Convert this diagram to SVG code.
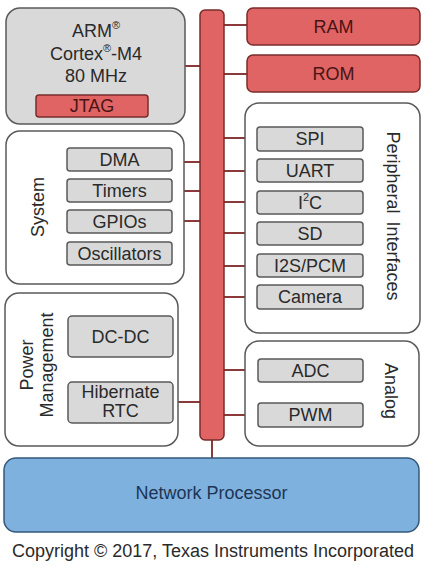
<svg xmlns="http://www.w3.org/2000/svg" width="425" height="572" viewBox="0 0 425 572">
<style>
text{font-family:"Liberation Sans",Arial,sans-serif;font-size:18px;fill:#2a2a2a;text-anchor:middle;dominant-baseline:central}
.grp{fill:#fff;stroke:#5a5a5a;stroke-width:1.5}
.gray{fill:#d9d9d9;stroke:#5a5a5a;stroke-width:1.5}
.red{fill:#e06464;stroke:#7a2b2b;stroke-width:1.5}
.rt{fill:#4a1414}
.blue{fill:#7fb1df;stroke:#35587a;stroke-width:1.5}
.conn line{stroke:#8a3a3a;stroke-width:2}
</style>
<rect width="425" height="572" fill="#fff"/>
<g class="conn">
<line x1="185" y1="66" x2="200" y2="66"/>
<line x1="172" y1="162" x2="200" y2="162"/>
<line x1="172" y1="191" x2="200" y2="191"/>
<line x1="172" y1="221" x2="200" y2="221"/>
<line x1="173" y1="402" x2="200" y2="402"/>
<line x1="224" y1="25" x2="247" y2="25"/>
<line x1="224" y1="74" x2="247" y2="74"/>
<line x1="224" y1="138" x2="257" y2="138"/>
<line x1="224" y1="171" x2="257" y2="171"/>
<line x1="224" y1="202" x2="257" y2="202"/>
<line x1="224" y1="233" x2="257" y2="233"/>
<line x1="224" y1="266" x2="257" y2="266"/>
<line x1="224" y1="297" x2="257" y2="297"/>
<line x1="224" y1="370" x2="258" y2="370"/>
<line x1="224" y1="415" x2="258" y2="415"/>
<line x1="212" y1="440" x2="212" y2="458"/>
</g>
<g id="bus"><rect class="red" x="200" y="10" width="24" height="430" rx="5"/></g>
<g id="arm">
<rect class="gray" x="6" y="8" width="179" height="116" rx="14"/>
<text x="96" y="31" font-size="19">ARM<tspan font-size="11" baseline-shift="super">®</tspan></text>
<text x="96" y="54" font-size="19">Cortex<tspan font-size="11" baseline-shift="super">®</tspan>-M4</text>
<text x="96" y="76" font-size="19">80 MHz</text>
</g>
<g id="jtag"><rect class="red" x="36" y="95" width="112" height="22" rx="3"/><text class="rt" x="92" y="106">JTAG</text></g>
<g id="system">
<rect class="grp" x="6" y="131" width="178" height="153" rx="14"/>
<text transform="translate(38 207) rotate(-90)" x="0" y="0">System</text>
</g>
<g id="dma"><rect class="gray" x="67" y="148" width="105" height="23" rx="3"/><text x="119.5" y="159.5">DMA</text></g>
<g id="timers"><rect class="gray" x="67" y="179" width="105" height="23" rx="3"/><text x="119.5" y="190.5">Timers</text></g>
<g id="gpios"><rect class="gray" x="67" y="210" width="105" height="23" rx="3"/><text x="119.5" y="221.5">GPIOs</text></g>
<g id="oscillators"><rect class="gray" x="67" y="242" width="105" height="23" rx="3"/><text x="119.5" y="253.5">Oscillators</text></g>
<g id="power">
<rect class="grp" x="5" y="293" width="173" height="153" rx="14"/>
<text transform="translate(27 365) rotate(-90)" x="0" y="0">Power</text>
<text transform="translate(47 365) rotate(-90)" x="0" y="0">Management</text>
</g>
<g id="dcdc"><rect class="gray" x="68" y="316" width="105" height="41" rx="4"/><text x="120.5" y="336.5">DC-DC</text></g>
<g id="hibernate"><rect class="gray" x="68" y="382" width="105" height="41" rx="4"/><text x="120.5" y="392">Hibernate</text><text x="120.5" y="411">RTC</text></g>
<g id="ram"><rect class="red" x="247" y="8" width="173" height="37" rx="6"/><text class="rt" x="333.5" y="26.5">RAM</text></g>
<g id="rom"><rect class="red" x="247" y="55" width="173" height="37" rx="6"/><text class="rt" x="333.5" y="73.5">ROM</text></g>
<g id="peripheral">
<rect class="grp" x="245" y="103" width="175" height="230" rx="14"/>
<text transform="translate(393 216) rotate(90)" x="0" y="0" font-size="19" word-spacing="3">Peripheral Interfaces</text>
</g>
<g id="spi"><rect class="gray" x="257" y="127" width="106" height="24" rx="3"/><text x="310" y="139">SPI</text></g>
<g id="uart"><rect class="gray" x="257" y="159" width="106" height="23" rx="3"/><text x="310" y="170.5">UART</text></g>
<g id="i2c"><rect class="gray" x="257" y="191" width="106" height="23" rx="3"/><text x="310" y="202.5">I<tspan font-size="11" baseline-shift="super">2</tspan>C</text></g>
<g id="sd"><rect class="gray" x="257" y="222" width="106" height="23" rx="3"/><text x="310" y="233.5">SD</text></g>
<g id="i2s"><rect class="gray" x="257" y="254" width="106" height="23" rx="3"/><text x="310" y="265.5">I2S/PCM</text></g>
<g id="camera"><rect class="gray" x="257" y="285" width="106" height="24" rx="3"/><text x="310" y="297">Camera</text></g>
<g id="analog">
<rect class="grp" x="245" y="341" width="174" height="105" rx="14"/>
<text transform="translate(391 391) rotate(90)" x="0" y="0" font-size="19">Analog</text>
</g>
<g id="adc"><rect class="gray" x="258" y="359" width="105" height="23" rx="3"/><text x="310.5" y="370.5">ADC</text></g>
<g id="pwm"><rect class="gray" x="258" y="403" width="105" height="24" rx="3"/><text x="310.5" y="415">PWM</text></g>
<g id="network"><rect class="blue" x="4" y="458" width="415" height="74" rx="12"/><text x="211.5" y="493" font-size="19" style="fill:#1d3552">Network Processor</text></g>
<text x="213" y="551" font-size="19.5" style="fill:#2a2a2a">Copyright © 2017, Texas Instruments Incorporated</text>
</svg>
